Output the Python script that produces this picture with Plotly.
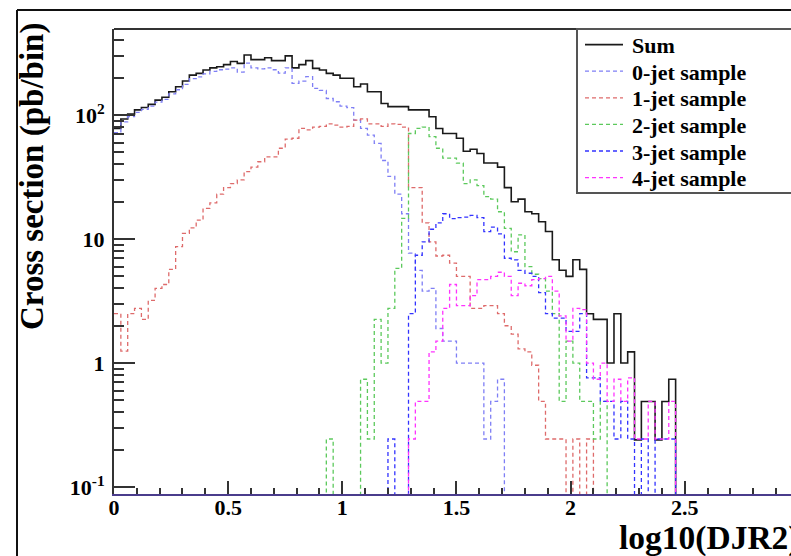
import plotly.graph_objects as go

# ---------------- data (100 bins of width 0.03 on 0..3) ----------------
N_BINS = 100
BIN_WIDTH = 0.03

sum_all = [78, 93, 102, 110, 115, 122, 132, 139, 154, 169,
           188, 210, 217, 231, 240, 245, 255, 270, 261, 305,
           280, 280, 290, 275, 275, 300, 240, 255, 275, 238,
           231, 217, 210, 198, 198, 169, 178, 154, 154, 124,
           117, 117, 117, 110, 110, 110, 97, 78, 71, 71,
           65, 51, 53, 49, 41, 41, 38, 26, 20, 21,
           16.6, 16, 13.8, 11.5, 6.8, 5.6, 5.0, 6.8, 5.7, 2.5,
           2.25, 2.25, 1.0, 2.5, 1.0, 1.23, 0.24, 0.49, 0.49, 0.24,
           0.49, 0.74] + [0] * 18

jet0 = [72, 88, 97, 105, 111, 118, 127, 134, 148, 160,
        177, 197, 203, 215, 225, 232, 235, 240, 222, 262,
        240, 236, 240, 232, 218, 240, 180, 188, 204, 164,
        158, 136, 128, 118, 115, 91, 78, 69, 59, 43,
        32, 23, 16, 7.7, 5.6, 3.8, 4.0, 1.9, 1.5, 1.5,
        1.0, 1.0, 1.0, 1.0, 0.244, 0.49, 0.74] + [0] * 43

jet1 = [2.5, 1.25, 2.5, 2.76, 2.25, 3.2, 4.0, 4.3, 5.7, 8.7,
        11.1, 12.3, 14.2, 17.7, 19.6, 23, 26, 28, 30, 35,
        38, 42, 46, 46, 54, 64, 65, 78, 76, 80,
        81, 85, 83, 80, 81, 91, 93, 85, 85, 81,
        85, 84, 80, 26, 26, 13.5, 9.5, 7.3, 7.4, 6.4,
        5.0, 5.0, 2.76, 2.76, 2.9, 2.9, 2.5, 2.0, 1.71, 1.3,
        1.23, 0.96, 0.49, 0.244, 0.244, 0.244, 0, 0.244, 0, 0.244] + [0] * 30

jet2 = [0] * 31 + [0.244, 0, 0, 0, 0, 0.74, 0.244, 2.25, 1.0,
                  2.76, 5.8, 14.7, 71, 78, 80, 67, 54, 45, 45,
                  41, 28, 30, 27, 22, 21, 16.6, 12.2, 7.9, 10.8,
                  6.0, 5.2, 4.8, 3.8, 2.5, 0.49, 1.5, 1.0, 0.49, 0.49,
                  0.244, 0.49] + [0] * 28

jet3 = [0] * 40 + [0.244, 0, 0, 2.5, 7.4, 9.5, 12, 13.5, 16, 14.6,
                  14.9, 15, 15.5, 14.9, 11.5, 12.5, 11, 7.0, 6.8, 5.6,
                  5.3, 5.0, 3.7, 2.5, 2.3, 2.3, 1.8, 1.8, 2.5, 0.76,
                  0.76, 0.49, 0.49, 0.244, 0.49, 0.244, 0, 0.244, 0, 0.244,
                  0.244, 0.244] + [0] * 18

jet4 = [0] * 43 + [0.244, 0.49, 0.49, 1.23, 1.5, 2.76, 4.3,
                  2.9, 2.9, 3.5, 4.7, 4.7, 5.0, 5.4, 5.0, 3.5, 4.4,
                  4.2, 4.7, 4.8, 5.0, 3.8, 2.4, 1.5, 2.76, 2.7, 1.0,
                  0.74, 1.0, 0.49, 0.74, 0.49, 0.76, 0.244, 0.244, 0.49, 0.244,
                  0.244, 0.49] + [0] * 18

series_names = ["Sum", "0-jet sample", "1-jet sample", "2-jet sample",
                "3-jet sample", "4-jet sample"]
series_vals = [sum_all, jet0, jet1, jet2, jet3, jet4]
series_colors = ["#1a1a1a", "#7f7ff5", "#de6b6b", "#5cc95c", "#3333ff", "#ff33ff"]
series_dash = ["solid", "4px,3px", "4px,3px", "4px,3px", "4px,3px", "4px,3px"]
series_width = [1.6, 1.3, 1.3, 1.3, 1.3, 1.3]

x_tick_vals = [0, 0.5, 1, 1.5, 2, 2.5]
x_tick_text = ["0", "0.5", "1", "1.5", "2", "2.5"]
y_tick_vals = [0.1, 1, 10, 100]
y_tick_text = ["10<sup>-1</sup>", "1", "10", "10<sup>2</sup>"]
y_minor_vals = [m * d for d in (0.1, 1, 10, 100) for m in range(2, 10)]

FLOOR = 1e-3  # empty bins drop below the visible range (as in ROOT log plots)

# ---------------- layout geometry (pixels) ----------------
W, H = 791, 556
ML, MR, MT, MB = 114, 0, 29, 62
PW, PH = W - ML - MR, H - MT - MB


def px_x(p):
    return (p - ML) / PW


def px_y(p):
    return (H - MB - p) / PH


edges = [i * BIN_WIDTH for i in range(N_BINS + 1)]

fig = go.Figure()
for name, vals, col, dash, lw in zip(series_names, series_vals, series_colors,
                                     series_dash, series_width):
    yv = [v if v > 0 else FLOOR for v in vals]
    fig.add_trace(go.Scatter(
        x=edges, y=yv + [yv[-1]], mode="lines", name=name,
        line=dict(color=col, width=lw, dash=dash, shape="hv"),
        hoverinfo="skip", showlegend=False))

font_family = "Liberation Serif"

fig.update_layout(
    width=W, height=H,
    margin=dict(l=ML, r=MR, t=MT, b=MB, pad=0),
    paper_bgcolor="white", plot_bgcolor="white",
    showlegend=False,
    xaxis=dict(
        range=[0, (W - ML - MR) / 228.3], showgrid=False, zeroline=False,
        showline=True, linecolor="#4a3c8c", linewidth=2,
        ticks="inside", ticklen=13, tickwidth=2, tickcolor="#333",
        tickvals=x_tick_vals, ticktext=x_tick_text, ticklabelstandoff=-7,
        tickfont=dict(family=font_family, size=22, color="black", weight="bold"),
        minor=dict(dtick=0.1, tick0=0, ticks="inside", ticklen=6, tickwidth=2,
                   tickcolor="#333", showgrid=False)),
    yaxis=dict(
        type="log", range=[-1.056, 2.694], showgrid=False, zeroline=False,
        showline=True, linecolor="#333", linewidth=2,
        ticks="inside", ticklen=21, tickwidth=2, tickcolor="#333",
        tickvals=y_tick_vals, ticktext=y_tick_text, ticklabelstandoff=3,
        tickfont=dict(family=font_family, size=22, color="black", weight="bold"),
        minor=dict(tickvals=y_minor_vals, ticks="inside", ticklen=10, tickwidth=2,
                   tickcolor="#333", showgrid=False)),
)

# frame top line, legend box, canvas border
shapes = [
    dict(type="line", xref="paper", yref="paper", x0=0, x1=1.02, y0=1, y1=1,
         line=dict(color="#333", width=2)),
    dict(type="rect", xref="paper", yref="paper", x0=px_x(577), x1=px_x(800),
         y0=px_y(193), y1=px_y(29), line=dict(color="#555", width=2),
         fillcolor="white", layer="above"),
    dict(type="line", xref="paper", yref="paper", x0=px_x(17), x1=px_x(17),
         y0=px_y(10), y1=px_y(560), line=dict(color="#111", width=2)),
    dict(type="line", xref="paper", yref="paper", x0=px_x(17), x1=px_x(800),
         y0=px_y(10), y1=px_y(10), line=dict(color="#111", width=2)),
]

# legend (drawn manually to match ROOT's compact spacing)
legend_y = [44.6, 71.2, 97.8, 124.4, 151.0, 177.6]
for name, col, dash, lw, ly in zip(series_names, series_colors, series_dash,
                                   series_width, legend_y):
    shapes.append(dict(type="line", xref="paper", yref="paper",
                       x0=px_x(585), x1=px_x(623), y0=px_y(ly), y1=px_y(ly),
                       line=dict(color=col, width=lw, dash=dash), layer="above"))
    fig.add_annotation(text=name, xref="paper", yref="paper",
                       x=px_x(630), y=px_y(ly + 1), xanchor="left", yanchor="middle",
                       showarrow=False,
                       font=dict(family=font_family, size=22, color="black",
                                 weight="bold"))
fig.update_layout(shapes=shapes)

fig.add_annotation(text="log10(DJR2)", xref="paper", yref="paper",
                   x=px_x(617), y=px_y(538), xanchor="left", yanchor="middle",
                   showarrow=False,
                   font=dict(family=font_family, size=33.5, color="black", weight="bold"))
fig.add_annotation(text="Cross section (pb/bin)", xref="paper", yref="paper",
                   x=px_x(33), y=px_y(177), xanchor="center", yanchor="middle",
                   textangle=-90, showarrow=False,
                   font=dict(family=font_family, size=33, color="black", weight="bold"))

fig.write_html("out.html", config={"displayModeBar": False},
               post_script="document.body.style.margin='0px';")
